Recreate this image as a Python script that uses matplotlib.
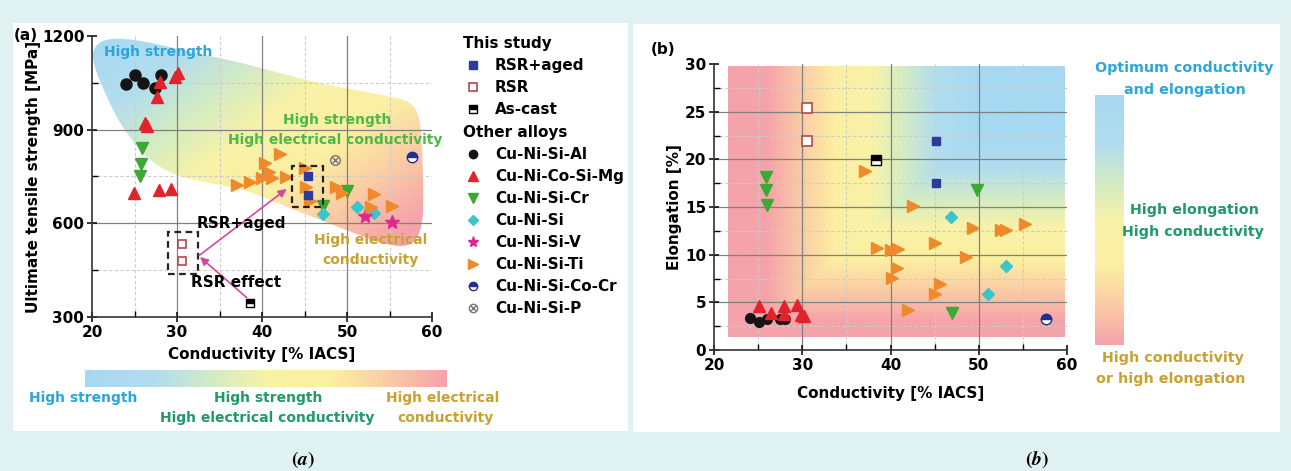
import numpy as np
import matplotlib.pyplot as plt
from matplotlib.colors import LinearSegmentedColormap
from matplotlib.patches import Polygon, Rectangle
from matplotlib.lines import Line2D

plt.rcParams['font.family'] = 'DejaVu Sans'
plt.rcParams['font.weight'] = 'bold'
plt.rcParams['axes.labelweight'] = 'bold'
plt.rcParams['font.size'] = 11

# ---------------- (a) tensile strength vs conductivity ----------------
rsr_aged_cond = [45.4, 45.4]
rsr_aged_uts = [752, 691]
rsr_cond = [30.6, 30.6]
rsr_uts = [534, 479]
cast_cond = [38.6]
cast_uts = [345]
al_cond = [24.0, 25.1, 26.0, 27.4, 28.1]
al_uts = [1046, 1075, 1049, 1033, 1075]
mg_cond = [28.0, 27.6, 29.8, 30.1, 26.2, 26.5, 24.9, 27.9, 29.3]
mg_uts = [1052, 1004, 1069, 1081, 921, 912, 697, 707, 710]
cr_cond = [25.9, 25.8, 25.7, 50.0, 47.2]
cr_uts = [841, 790, 753, 703, 657]
si_cond = [47.2, 51.2, 53.2]
si_uts = [630, 652, 633]
v_cond = [52.1, 55.3]
v_uts = [624, 604]
ti_cond = [37.1, 38.6, 40.0, 40.4, 40.8, 41.2, 42.1, 42.8, 45.1, 45.2, 45.6, 48.7, 49.4, 53.2, 52.8, 55.3]
ti_uts = [723, 732, 745, 793, 765, 745, 822, 749, 777, 715, 672, 715, 697, 694, 652, 655]
cocr_cond = [57.6]
cocr_uts = [812]
p_cond = [48.6]
p_uts = [803]

# outline of the shaded property region in (a)
blob_cond = [20.1, 21.5, 25.0, 30.5, 38.0, 46.0, 54.0, 57.5, 58.7, 59.0, 58.9, 57.4, 54.0,
             50.0, 46.0, 42.0, 38.0, 34.0, 30.0, 26.5, 23.4, 21.3, 20.1]
blob_uts = [1160, 1192, 1190, 1156, 1112, 1052, 1012, 992, 935, 720, 580, 522, 535,
            578, 620, 663, 708, 728, 750, 805, 912, 1030, 1115]

# ---------------- (b) elongation vs conductivity ----------------
b_aged_cond = [45.2, 45.2]
b_aged_el = [21.9, 17.5]
b_rsr_cond = [30.5, 30.5]
b_rsr_el = [25.4, 21.9]
b_cast_cond = [38.4]
b_cast_el = [19.9]
b_al_cond = [24.1, 25.1, 26.0, 27.5, 28.0]
b_al_el = [3.4, 2.9, 3.2, 3.2, 3.2]
b_mg_cond = [25.1, 26.5, 27.9, 27.9, 29.4, 29.9, 30.2]
b_mg_el = [4.6, 3.9, 4.6, 3.8, 4.7, 3.7, 3.6]
b_cr_cond = [25.9, 25.9, 26.0, 47.0, 49.8]
b_cr_el = [18.1, 16.8, 15.2, 3.9, 16.8]
b_si_cond = [46.9, 51.1, 53.1]
b_si_el = [13.9, 5.9, 8.8]
b_ti_cond = [37.1, 38.5, 40.0, 40.9, 40.7, 40.2, 42.0, 42.5, 45.0, 45.6, 45.0, 48.6, 49.3, 52.5, 53.1, 55.2]
b_ti_el = [18.8, 10.7, 10.5, 10.6, 8.6, 7.6, 4.2, 15.1, 11.2, 6.9, 5.9, 9.8, 12.8, 12.6, 12.6, 13.2]
b_cocr_cond = [57.6]
b_cocr_el = [3.25]

# colours
c_aged = '#2b3c9b'
c_rsr = '#b5474f'
c_al = '#141414'
c_mg = '#e3232b'
c_cr = '#3aaa35'
c_si = '#3cc5c8'
c_v = '#e0268f'
c_ti = '#f0892b'
c_cocr = '#1f2f8f'
c_p = '#777777'
c_arrow = '#d4479e'
t_blue = '#2aa6dc'
t_green = '#4cb848'
t_teal = '#1f9a66'
t_gold = '#c9a130'

grad = LinearSegmentedColormap.from_list('grad', [
    (0.0, '#a6d9f2'), (0.2, '#b2ddee'), (0.36, '#d5ecc2'), (0.5, '#f8f2a8'),
    (0.68, '#fcefa2'), (0.82, '#fbd0a4'), (1.0, '#f5a3aa')])

W, H = 1291, 471
fig = plt.figure(figsize=(W / 100, H / 100), dpi=100, facecolor='#dff1f1')


def box(x0, y0, x1, y1):
    # figure pixels (origin top-left) -> figure fraction rect
    return [x0 / W, 1 - y1 / H, (x1 - x0) / W, (y1 - y0) / H]


def ftext(x, y, s, **kw):
    fig.text(x / W, 1 - y / H, s, ha='center', va='center', **kw)


for r in [(13, 23, 628, 431), (633, 24, 1280, 432)]:
    fig.add_artist(Rectangle(box(*r)[:2], box(*r)[2], box(*r)[3], transform=fig.transFigure,
                             facecolor='white', edgecolor='none', zorder=-5))


def chaikin(xs, ys, n=3):
    pts = np.column_stack([xs, ys]).astype(float)
    for _ in range(n):
        nxt = np.roll(pts, -1, axis=0)
        q = 0.75 * pts + 0.25 * nxt
        r = 0.25 * pts + 0.75 * nxt
        pts = np.empty((2 * len(q), 2))
        pts[0::2] = q
        pts[1::2] = r
    return pts


def style_axes(ax, xmaj, xmin, ymaj, ymin):
    ax.set_xticks(xmaj)
    ax.set_xticks(xmin, minor=True)
    ax.set_yticks(ymaj)
    ax.set_yticks(ymin, minor=True)
    for v in xmaj[1:-1]:
        ax.axvline(v, color='#808080', lw=0.9, zorder=0.6)
    for v in xmin:
        ax.axvline(v, color='#cccccc', lw=0.8, ls=(0, (3, 2)), zorder=0.6)
    for v in ymaj[1:-1]:
        ax.axhline(v, color='#808080', lw=0.9, zorder=0.6)
    for v in ymin:
        ax.axhline(v, color='#cccccc', lw=0.8, ls=(0, (3, 2)), zorder=0.6)
    ax.spines['top'].set_visible(False)
    ax.spines['right'].set_visible(False)
    for s in ['left', 'bottom']:
        ax.spines[s].set_linewidth(1.2)
        ax.spines[s].set_color('#333333')
    ax.tick_params(which='major', direction='inout', length=7, width=1.1, labelsize=11, pad=2)
    ax.tick_params(which='minor', direction='in', length=4, width=1)
    ax.set_facecolor('none')


# ================= panel (a) =================
axa = fig.add_axes(box(92, 36, 432, 317))
axa.set_xlim(20, 60)
axa.set_ylim(300, 1200)
style_axes(axa, [20, 30, 40, 50, 60], [25, 35, 45, 55], [300, 600, 900, 1200], [450, 750, 1050])

gx, gy = np.meshgrid(np.linspace(20, 60, 300), np.linspace(300, 1200, 300))
shade = (gx - 20) / 40 * 0.6 + (1200 - gy) / 900 * 0.65
im = axa.imshow(shade, extent=(20, 60, 300, 1200), origin='lower', cmap=grad, vmin=0, vmax=1,
                aspect='auto', zorder=0.2, interpolation='bilinear')
outline = Polygon(chaikin(blob_cond, blob_uts), closed=True, facecolor='none', edgecolor='none')
axa.add_patch(outline)
im.set_clip_path(outline)

ms = 8
axa.plot(al_cond, al_uts, 'o', color=c_al, ms=ms, zorder=3)
axa.plot(mg_cond, mg_uts, '^', color=c_mg, ms=ms + 0.5, zorder=3)
axa.plot(cr_cond, cr_uts, 'v', color=c_cr, ms=ms + 0.5, zorder=3)
axa.plot(si_cond, si_uts, 'D', color=c_si, ms=6.5, zorder=3)
axa.plot(v_cond, v_uts, '*', color=c_v, ms=10, zorder=3)
axa.plot(ti_cond, ti_uts, '>', color=c_ti, ms=ms + 0.5, zorder=3)
axa.plot(cocr_cond, cocr_uts, 'o', ms=7.5, fillstyle='top', mfc=c_cocr, markerfacecoloralt='white',
         mec=c_cocr, mew=1, zorder=3)
axa.plot(p_cond, p_uts, 'o', ms=7, mfc='none', mec=c_p, mew=1, zorder=3)
axa.plot(p_cond, p_uts, 'x', ms=4.5, color=c_p, mew=1, zorder=3)
axa.plot(rsr_aged_cond, rsr_aged_uts, 's', color=c_aged, ms=6, zorder=4)
axa.plot(rsr_cond, rsr_uts, 's', mfc='white', mec=c_rsr, ms=6, mew=1.2, zorder=4)
axa.plot(cast_cond, cast_uts, 's', ms=6, fillstyle='top', mfc='black', markerfacecoloralt='white',
         mec='black', mew=1, zorder=4)

# dashed boxes and arrows
axa.add_patch(Rectangle((28.9, 438), 3.6, 134, fill=False, ls=(0, (3, 2)), lw=1.6, ec='#222222', zorder=4))
axa.add_patch(Rectangle((43.5, 652), 3.7, 132, fill=False, ls=(0, (3, 2)), lw=1.6, ec='#222222', zorder=4))
axa.annotate('', xy=(42.9, 710), xytext=(32.6, 497),
             arrowprops=dict(arrowstyle='-|>', color=c_arrow, lw=1.2, mutation_scale=12,
                             shrinkA=0, shrinkB=0), zorder=5)
axa.annotate('', xy=(32.7, 492), xytext=(38.2, 362),
             arrowprops=dict(arrowstyle='-|>', color=c_arrow, lw=1.2, mutation_scale=12,
                             shrinkA=0, shrinkB=0), zorder=5)
axa.text(37.6, 601, 'RSR+aged', ha='center', va='center', fontsize=11, zorder=6)
axa.text(36.9, 409, 'RSR effect', ha='center', va='center', fontsize=11, zorder=6)
axa.text(27.8, 1149, 'High strength', ha='center', va='center', fontsize=10, color=t_blue, zorder=6)
axa.text(48.8, 931, 'High strength', ha='center', va='center', fontsize=10, color=t_green, zorder=6)
axa.text(48.6, 867, 'High electrical conductivity', ha='center', va='center', fontsize=10,
         color=t_green, zorder=6)
axa.text(52.8, 547, 'High electrical', ha='center', va='center', fontsize=10, color=t_gold, zorder=6)
axa.text(52.8, 483, 'conductivity', ha='center', va='center', fontsize=10, color=t_gold, zorder=6)

axa.set_xlabel('Conductivity [% IACS]', fontsize=11)
axa.set_ylabel('Ultimate tensile strength [MPa]', fontsize=11)
axa.xaxis.set_label_coords(0.5, -0.105)
axa.yaxis.set_label_coords(-0.15, 0.5)
ftext(26, 35, '(a)', fontsize=11)

# legend for (a)
study_h = [Line2D([], [], ls='none', marker='s', ms=5.5, color=c_aged),
           Line2D([], [], ls='none', marker='s', ms=5.5, mfc='white', mec=c_rsr, mew=1.2),
           Line2D([], [], ls='none', marker='s', ms=5.5, fillstyle='top', mfc='black',
                  markerfacecoloralt='white', mec='black')]
study_l = ['RSR+aged', 'RSR', 'As-cast']
other_h = [Line2D([], [], ls='none', marker='o', ms=6, color=c_al),
           Line2D([], [], ls='none', marker='^', ms=7, color=c_mg),
           Line2D([], [], ls='none', marker='v', ms=7, color=c_cr),
           Line2D([], [], ls='none', marker='D', ms=5, color=c_si),
           Line2D([], [], ls='none', marker='*', ms=8, color=c_v),
           Line2D([], [], ls='none', marker='>', ms=7, color=c_ti),
           Line2D([], [], ls='none', marker='o', ms=6, fillstyle='top', mfc=c_cocr,
                  markerfacecoloralt='white', mec=c_cocr),
           (Line2D([], [], ls='none', marker='o', ms=6, mfc='none', mec=c_p),
            Line2D([], [], ls='none', marker='x', ms=4, color=c_p))]
other_l = ['Cu-Ni-Si-Al', 'Cu-Ni-Co-Si-Mg', 'Cu-Ni-Si-Cr', 'Cu-Ni-Si', 'Cu-Ni-Si-V',
           'Cu-Ni-Si-Ti', 'Cu-Ni-Si-Co-Cr', 'Cu-Ni-Si-P']
leg_kw = dict(loc='upper left', bbox_transform=fig.transFigure, frameon=False, alignment='left',
              borderpad=0, borderaxespad=0, handlelength=1.3, handletextpad=0.8,
              labelspacing=0.46, prop={'weight': 'bold', 'size': 11},
              title_fontproperties={'weight': 'bold', 'size': 11})
leg1 = axa.legend(study_h, study_l, title='This study', bbox_to_anchor=(463 / W, 1 - 36 / H), **leg_kw)
axa.add_artist(leg1)
axa.legend(other_h, other_l, title='Other alloys', bbox_to_anchor=(463 / W, 1 - 125 / H), **leg_kw)

# horizontal colour key under (a)
cba = fig.add_axes(box(85, 370, 447, 387))
cba.imshow(np.linspace(0, 1, 256)[None, :], cmap=grad, aspect='auto')
cba.axis('off')
ftext(83, 398, 'High strength', fontsize=10, color=t_blue)
ftext(268, 398, 'High strength', fontsize=10, color=t_teal)
ftext(267, 418, 'High electrical conductivity', fontsize=10, color=t_teal)
ftext(443, 398, 'High electrical', fontsize=10, color=t_gold)
ftext(445, 418, 'conductivity', fontsize=10, color=t_gold)

# ================= panel (b) =================
axb = fig.add_axes(box(714, 64, 1067, 350))
axb.set_xlim(20, 60)
axb.set_ylim(0, 30)
style_axes(axb, [20, 30, 40, 50, 60], [25, 35, 45, 55], [0, 5, 10, 15, 20, 25, 30],
           [2.5, 7.5, 12.5, 17.5, 22.5, 27.5])

bx, by = np.meshgrid(np.linspace(21.6, 59.7, 300), np.linspace(1.4, 29.8, 300))
level = np.minimum(np.clip((bx - 26) / 24, 0, 1), np.clip((by - 3) / 20, 0, 1))
axb.imshow(1 - level, extent=(21.6, 59.7, 1.4, 29.8), origin='lower', cmap=grad, vmin=0, vmax=1,
           aspect='auto', zorder=0.2, interpolation='bilinear')

axb.plot(b_al_cond, b_al_el, 'o', color=c_al, ms=7, zorder=3)
axb.plot(b_mg_cond, b_mg_el, '^', color=c_mg, ms=8.5, zorder=3)
axb.plot(b_cr_cond, b_cr_el, 'v', color=c_cr, ms=8.5, zorder=3)
axb.plot(b_si_cond, b_si_el, 'D', color=c_si, ms=6.5, zorder=3)
axb.plot(b_ti_cond, b_ti_el, '>', color=c_ti, ms=8.5, zorder=3)
axb.plot(b_cocr_cond, b_cocr_el, 'o', ms=7.5, fillstyle='top', mfc=c_cocr, markerfacecoloralt='white',
         mec=c_cocr, mew=1, zorder=3)
axb.plot(b_aged_cond, b_aged_el, 's', color=c_aged, ms=6, zorder=4)
axb.plot(b_rsr_cond, b_rsr_el, 's', mfc='white', mec=c_rsr, ms=6.5, mew=1.2, zorder=4)
axb.plot(b_cast_cond, b_cast_el, 's', ms=6.5, fillstyle='top', mfc='black', markerfacecoloralt='white',
         mec='black', mew=1, zorder=4)

axb.set_xlabel('Conductivity [% IACS]', fontsize=11)
axb.set_ylabel('Elongation [%]', fontsize=11)
axb.xaxis.set_label_coords(0.5, -0.125)
axb.yaxis.set_label_coords(-0.09, 0.5)
ftext(663, 50, '(b)', fontsize=11)

# vertical colour key for (b)
cbb = fig.add_axes(box(1095, 95, 1124, 345))
cbb.imshow(np.linspace(0, 1, 256)[:, None], cmap=grad, aspect='auto')
cbb.axis('off')
ftext(1184, 68, 'Optimum conductivity', fontsize=10.3, color=t_blue)
ftext(1185, 90, 'and elongation', fontsize=10.3, color=t_blue)
ftext(1194, 210, 'High elongation', fontsize=10.3, color=t_teal)
ftext(1193, 232, 'High conductivity', fontsize=10.3, color=t_teal)
ftext(1173, 358, 'High conductivity', fontsize=10.3, color=t_gold)
ftext(1171, 379, 'or high elongation', fontsize=10.3, color=t_gold)

# captions
ftext(303, 460, r'$(a)$', fontsize=14, fontweight='normal', math_fontfamily='stix')
ftext(1037, 459, r'$(b)$', fontsize=14, fontweight='normal', math_fontfamily='stix')

fig.savefig('out.png', dpi=100, facecolor=fig.get_facecolor())
